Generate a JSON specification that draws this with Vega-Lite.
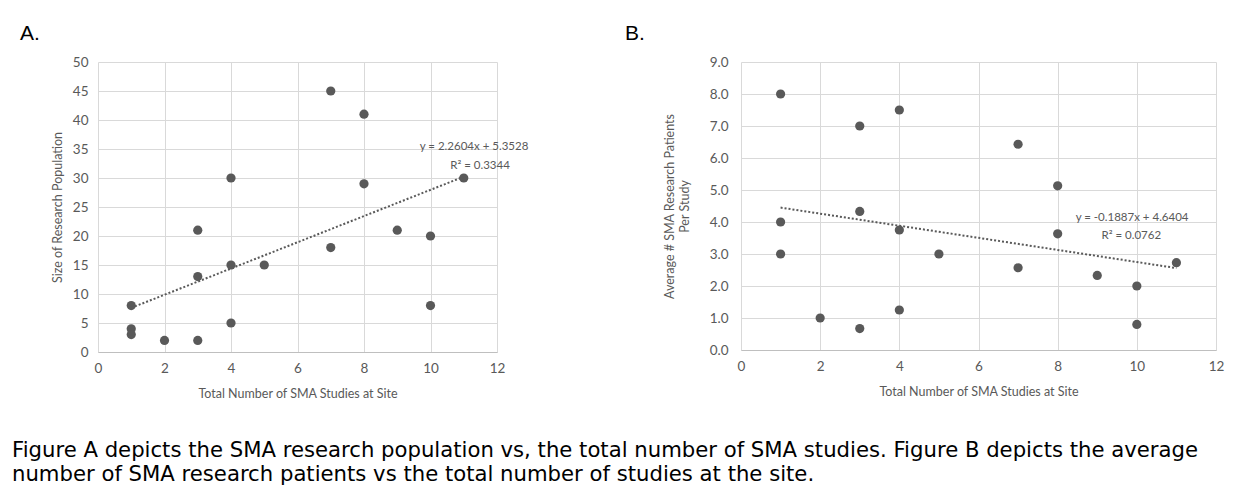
{
  "$schema": "https://vega.github.io/schema/vega-lite/v6.json",
  "background": "white",
  "padding": {"left": 12, "top": 23, "right": 10, "bottom": 10},
  "datasets": {
    "pts": [
      {"studies": 1, "population": 8, "average": 8},
      {"studies": 1, "population": 4, "average": 4},
      {"studies": 1, "population": 3, "average": 3},
      {"studies": 2, "population": 2, "average": 1},
      {"studies": 3, "population": 21, "average": 7},
      {"studies": 3, "population": 13, "average": 4.33},
      {"studies": 3, "population": 2, "average": 0.67},
      {"studies": 4, "population": 30, "average": 7.5},
      {"studies": 4, "population": 15, "average": 3.75},
      {"studies": 4, "population": 5, "average": 1.25},
      {"studies": 5, "population": 15, "average": 3},
      {"studies": 7, "population": 45, "average": 6.43},
      {"studies": 7, "population": 18, "average": 2.57},
      {"studies": 8, "population": 41, "average": 5.13},
      {"studies": 8, "population": 29, "average": 3.63},
      {"studies": 9, "population": 21, "average": 2.33},
      {"studies": 10, "population": 20, "average": 2},
      {"studies": 10, "population": 8, "average": 0.8},
      {"studies": 11, "population": 30, "average": 2.73}
    ],
    "trendA": [
      {"studies": 1, "population": 7.61},
      {"studies": 11, "population": 30.22}
    ],
    "trendB": [
      {"studies": 1, "average": 4.45},
      {"studies": 11, "average": 2.56}
    ],
    "eqA": [
      {"studies": 11.31, "population": 35.3, "label": "y = 2.2604x + 5.3528"},
      {"studies": 11.49, "population": 32.1, "label": "R² = 0.3344"}
    ],
    "eqB": [
      {"studies": 9.88, "average": 4.11, "label": "y = -0.1887x + 4.6404"},
      {"studies": 9.86, "average": 3.57, "label": "R² = 0.0762"}
    ]
  },
  "title": {
    "text": [
      "Figure A depicts the SMA research population vs, the total number of SMA studies. Figure B depicts the average",
      "number of SMA research patients vs the total number of studies at the site."
    ],
    "orient": "bottom",
    "anchor": "start",
    "frame": "bounds",
    "font": "DejaVu Sans",
    "fontSize": 21.2,
    "fontWeight": "normal",
    "color": "#000000",
    "lineHeight": 24,
    "offset": 40,
    "dx": -8
  },
  "config": {
    "view": {"stroke": null},
    "axis": {
      "labelFont": "Lato",
      "titleFont": "Lato",
      "labelFontSize": 13.5,
      "titleFontSize": 12.5,
      "labelColor": "#595959",
      "titleColor": "#595959",
      "titleFontWeight": "normal",
      "gridColor": "#d9d9d9",
      "gridWidth": 1,
      "tickSize": 0,
      "domain": false,
      "labelOverlap": false,
      "labelBound": false,
      "labelFlush": false
    }
  },
  "spacing": 96,
  "hconcat": [
    {
      "width": 399,
      "height": 290,
      "title": {"text": "A.", "anchor": "start", "frame": "group", "font": "Liberation Sans", "fontSize": 21, "fontWeight": "normal", "color": "#000000", "dx": -78, "offset": 11},
      "encoding": {
        "x": {"field": "studies", "type": "quantitative", "scale": {"domain": [0, 12], "nice": false}, "axis": {"values": [0,2,4,6,8,10,12], "tickCount": 7, "title": "Total Number of SMA Studies at Site", "labelPadding": 9, "titlePadding": 13, "domain": true, "domainColor": "#bfbfbf"}},
        "y": {"field": "population", "type": "quantitative", "scale": {"domain": [0, 50], "nice": false}, "axis": {"values": [0,5,10,15,20,25,30,35,40,45,50], "tickCount": 11, "title": "Size of Research Population", "labelPadding": 10, "titlePadding": 8}}
      },
      "layer": [
        {
          "data": {"name": "pts"},
          "mark": {"type": "circle", "size": 85, "color": "#595959", "opacity": 1}
        },
        {
          "data": {"name": "trendA"},
          "mark": {"type": "line", "color": "#595959", "strokeWidth": 2, "strokeDash": [2, 2]}
        },
        {
          "data": {"name": "eqA"},
          "mark": {"type": "text", "font": "Lato", "fontSize": 11.5, "color": "#595959", "align": "center", "baseline": "middle"},
          "encoding": {"text": {"field": "label"}}
        }
      ]
    },
    {
      "width": 475,
      "height": 288,
      "title": {"text": "B.", "anchor": "start", "frame": "group", "font": "Liberation Sans", "fontSize": 21, "fontWeight": "normal", "color": "#000000", "dx": -116, "offset": 11},
      "encoding": {
        "x": {"field": "studies", "type": "quantitative", "scale": {"domain": [0, 12], "nice": false}, "axis": {"values": [0,2,4,6,8,10,12], "tickCount": 7, "title": "Total Number of SMA Studies at Site", "labelPadding": 9, "titlePadding": 13, "domain": true, "domainColor": "#bfbfbf"}},
        "y": {"field": "average", "type": "quantitative", "scale": {"domain": [0, 9], "nice": false}, "axis": {"values": [0,1,2,3,4,5,6,7,8,9], "tickCount": 10, "format": ".1f", "title": ["Average # SMA Research Patients", "Per Study"], "labelPadding": 13, "titlePadding": 18}}
      },
      "layer": [
        {
          "data": {"name": "pts"},
          "mark": {"type": "circle", "size": 85, "color": "#595959", "opacity": 1}
        },
        {
          "data": {"name": "trendB"},
          "mark": {"type": "line", "color": "#595959", "strokeWidth": 2, "strokeDash": [2, 2]}
        },
        {
          "data": {"name": "eqB"},
          "mark": {"type": "text", "font": "Lato", "fontSize": 11.5, "color": "#595959", "align": "center", "baseline": "middle"},
          "encoding": {"text": {"field": "label"}}
        }
      ]
    }
  ]
}
